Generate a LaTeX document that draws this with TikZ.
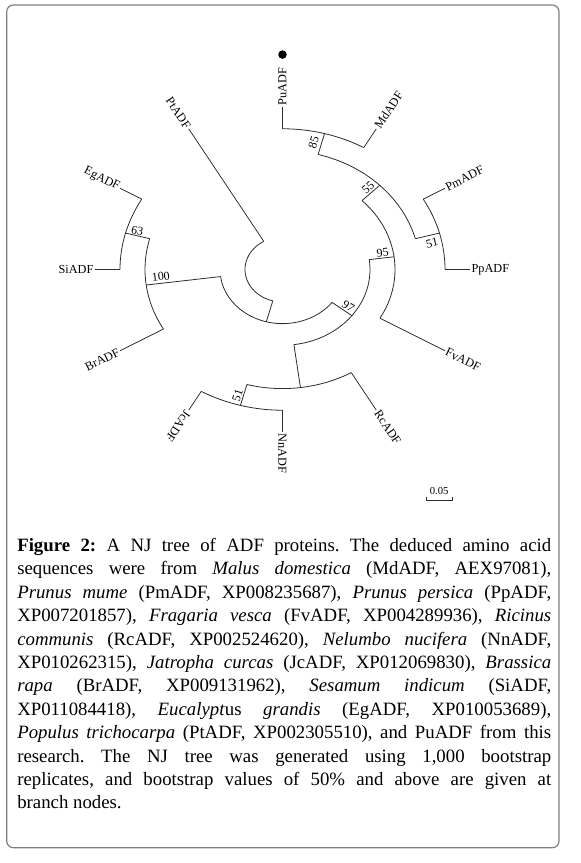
\documentclass[tikz,border=0pt]{standalone}
\usepackage{fontspec}
\setmainfont{Liberation Serif}
\usetikzlibrary{positioning}
\definecolor{framegray}{RGB}{128,128,128}
\definecolor{treeline}{RGB}{45,45,45}

\begin{document}
\begin{tikzpicture}[x=0.75pt, y=0.75pt,
    branch/.style={draw=treeline, line width=0.6pt},
    taxon/.style={font=\fontsize{9.2}{10}\selectfont, inner sep=1pt},
    boot/.style={font=\fontsize{9}{10}\selectfont, inner sep=0pt},
    scalelbl/.style={font=\fontsize{8}{9}\selectfont, inner sep=0pt},
    newseq/.style={circle, fill=black, inner sep=0pt, minimum size=6.4pt},
    frame/.style={draw=framegray, line width=0.9pt, rounded corners=5pt},
    caption/.style={anchor=north west, inner sep=0pt, text width=400.5pt,
        align=justify, font=\fontsize{14.1}{17.55}\selectfont\frenchspacing}]

    % Page size of the reference, in pixels (1 px = 0.75 pt)
    \useasboundingbox (0,0) rectangle (581,-863);
    \draw[frame] (6.7,-5) rectangle (559,-847.7);

    % Circle tree: rings 25 px apart, drawing squashed in height
    \begin{scope}[shift={(282.5,-269.5)}, yscale=0.866]
        % Clade arcs: start angle/end angle/ring
        \foreach \s/\e/\r in {120/255/37.5, 187.5/322.5/62.5, -82.5/7.5/87.5,
                              -30/45/112.5, 15/75/137.5, 60/90/162.5, 0/30/162.5,
                              -105/-60/137.5, -120/-90/162.5, 165/210/137.5,
                              150/180/162.5}
            \draw[branch] (\s:\r) arc[start angle=\s, end angle=\e, radius=\r];
        % Inner branches: angle/from ring/to ring
        \foreach \a/\p/\q in {255/37.5/62.5, 187.5/62.5/137.5, 165/137.5/162.5,
                              -37.5/62.5/87.5, 7.5/87.5/112.5, 45/112.5/137.5,
                              75/137.5/162.5, 15/137.5/162.5, -82.5/87.5/137.5,
                              -105/137.5/162.5}
            \draw[branch] (\a:\p) -- (\a:\q);
        % Taxa reading outwards
        \foreach \a/\r/\t in {90/162.5/PuADF, 60/162.5/MdADF, 30/162.5/PmADF,
                              0/162.5/PpADF, -30/112.5/FvADF, -60/137.5/RcADF,
                              -90/162.5/NnADF, -120/162.5/JcADF} {
            \pgfmathsetmacro{\tilt}{atan2(0.866*sin(\a), cos(\a))}
            \node[taxon, anchor=west, rotate=\tilt] (\t) at (\a:187.5) {\t};
            \draw[branch] (\a:\r) -- (\t.west);
        }
        % Taxa reading inwards (left half)
        \foreach \a/\r/\t in {120/37.5/PtADF, 150/162.5/EgADF, 180/162.5/SiADF,
                              210/137.5/BrADF} {
            \pgfmathsetmacro{\tilt}{atan2(0.866*sin(\a-180), cos(\a-180))}
            \node[taxon, anchor=east, rotate=\tilt] (\t) at (\a:187.5) {\t};
            \draw[branch] (\a:\r) -- (\t.east);
        }
        % Bootstrap values beside their branches
        \foreach \a/\r/\tilt/\n/\val in {78/150/72.8/bs85/85, 47.8/127.3/40.9/bs55/55,
                                         11.6/152.6/13.1/bs51a/51, 10.9/102/6.5/bs95/95,
                                         -32.8/78.3/-33.6/bs97/97, 162.8/152/-13.1/bs63/63,
                                         183.9/122/6.5/bs100/100, -107.2/152.1/72.8/bs51b/51}
            \node[boot, rotate=\tilt] (\n) at (\a:\r) {\val};
    \end{scope}

    % Marker of the new sequence
    \node[newseq, above=5.5pt of PuADF.east] (dot) {};

    % Scale bar
    \coordinate (barmid) at (439.2,-500.7);
    \draw[branch] (426,-497.2) |- (452.3,-500.7) -- ++(0,3.5);
    \node[scalelbl, above=4pt of barmid] (scale) {0.05};

    % Caption
    \node[caption] (cap) at (17,-538) {\textbf{Figure 2:} A NJ tree of ADF proteins. The deduced amino acid\linebreak
        sequences were from \textit{Malus domestica} (MdADF, AEX97081),\linebreak
        \textit{Prunus mume} (PmADF, XP008235687), \textit{Prunus persica} (PpADF,\linebreak
        XP007201857), \textit{Fragaria vesca} (FvADF, XP004289936), \textit{Ricinus}\linebreak
        \textit{communis} (RcADF, XP002524620), \textit{Nelumbo nucifera} (NnADF,\linebreak
        XP010262315), \textit{Jatropha curcas} (JcADF, XP012069830), \textit{Brassica}\linebreak
        \textit{rapa} (BrADF, XP009131962), \textit{Sesamum indicum} (SiADF,\linebreak
        XP011084418), \textit{Eucalypt}us \textit{grandis} (EgADF, XP010053689),\linebreak
        \textit{Populus trichocarpa} (PtADF, XP002305510), and PuADF from this\linebreak
        research. The NJ tree was generated using 1,000 bootstrap\linebreak
        replicates, and bootstrap values of 50\% and above are given at\linebreak
        branch nodes.};
\end{tikzpicture}
\end{document}
